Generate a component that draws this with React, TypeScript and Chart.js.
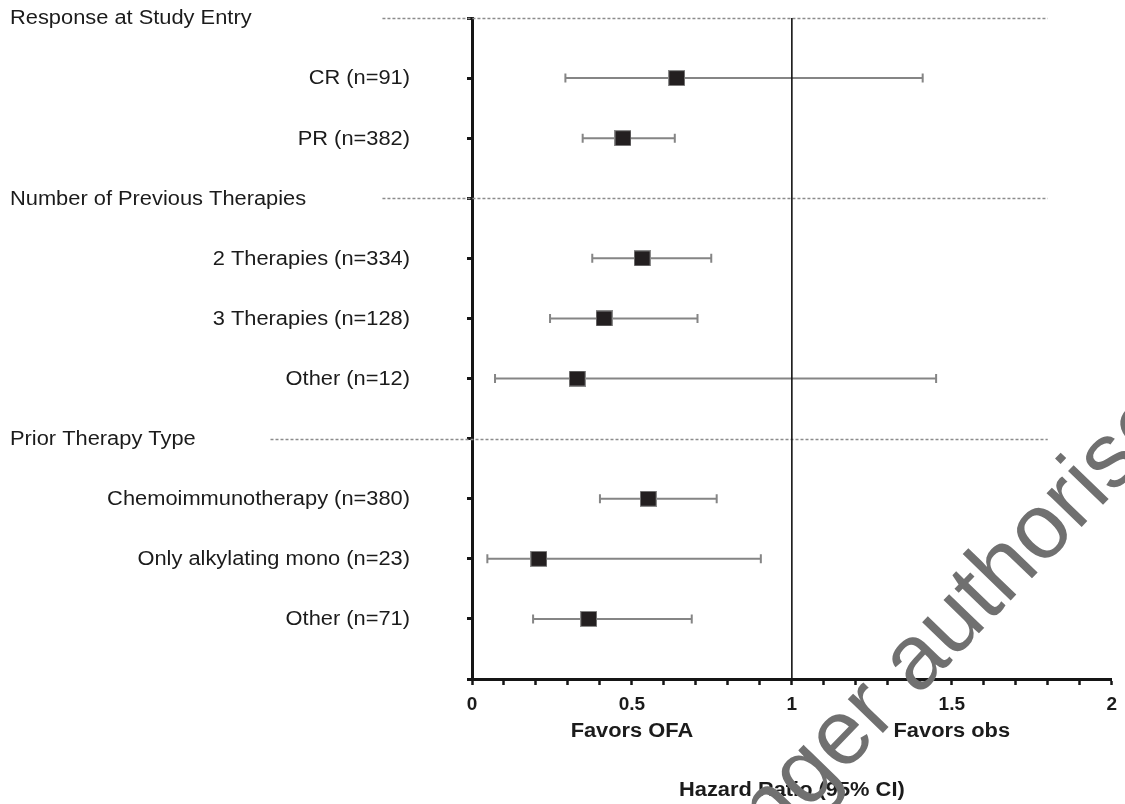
import React, { useEffect, useRef } from 'react';
import { Chart, registerables } from 'chart.js';

Chart.register(...registerables);

// Rows from top to bottom; group headers have no estimate.
const rowLabels = [
  'Response at Study Entry',
  'CR (n=91)',
  'PR (n=382)',
  'Number of Previous Therapies',
  '2 Therapies (n=334)',
  '3 Therapies (n=128)',
  'Other (n=12)',
  'Prior Therapy Type',
  'Chemoimmunotherapy (n=380)',
  'Only alkylating mono (n=23)',
  'Other (n=71)',
];
const isHeader = [true, false, false, true, false, false, false, true, false, false, false];
const hazardRatio = [null, 0.64, 0.472, null, 0.532, 0.413, 0.329, null, 0.551, 0.209, 0.365];
const ciLower = [null, 0.292, 0.346, null, 0.376, 0.244, 0.072, null, 0.4, 0.048, 0.191];
const ciUpper = [null, 1.409, 0.634, null, 0.748, 0.705, 1.451, null, 0.765, 0.903, 0.687];

// Dotted rules next to each group header, in hazard-ratio units.
const headerRuleStart = [-0.28, -0.28, -0.63];
const headerRuleEnd = 1.8;

const xTickLabels = ['0', '0.5', '1', '1.5', '2'];
const favorsLabels = ['Favors OFA', 'Favors obs'];
const favorsAt = [0.5, 1.5];
const axisTitle = 'Hazard Ratio (95% CI)';
const watermarkText = 'Medicinal product no longer authorised';

const FONT = '"Liberation Sans", Arial, Helvetica, sans-serif';
const TEXT_COLOR = '#1b1b1b';
const STRETCH = 1.12;

function drawStretched(
  ctx: CanvasRenderingContext2D,
  text: string,
  x: number,
  y: number,
  align: CanvasTextAlign,
  font: string,
) {
  ctx.save();
  ctx.translate(x, y);
  ctx.scale(STRETCH, 1);
  ctx.font = font;
  ctx.textAlign = align;
  ctx.textBaseline = 'middle';
  ctx.fillStyle = TEXT_COLOR;
  ctx.fillText(text, 0, 0);
  ctx.restore();
}

function makeSquare(): HTMLCanvasElement {
  const c = document.createElement('canvas');
  c.width = 17;
  c.height = 16;
  const g = c.getContext('2d')!;
  g.fillStyle = '#231f20';
  g.fillRect(0, 0, 17, 16);
  g.strokeStyle = 'rgba(150,150,150,0.9)';
  g.lineWidth = 1;
  g.strokeRect(0.5, 0.5, 16, 15);
  return c;
}

const forestPlugin = {
  id: 'forest',
  beforeDatasetsDraw(chart: any) {
    const { ctx, chartArea, scales } = chart;
    const xs = scales.x;
    const ys = scales.y;
    ctx.save();

    // header rules
    let h = 0;
    rowLabels.forEach((_, i) => {
      if (!isHeader[i]) return;
      const y = Math.round(ys.getPixelForValue(i)) + 0.5;
      ctx.beginPath();
      ctx.setLineDash([3, 2]);
      ctx.strokeStyle = '#8c8c8c';
      ctx.lineWidth = 1.5;
      ctx.moveTo(xs.getPixelForValue(headerRuleStart[h]), y);
      ctx.lineTo(xs.getPixelForValue(headerRuleEnd), y);
      ctx.stroke();
      h++;
    });
    ctx.setLineDash([]);

    // confidence intervals
    ctx.strokeStyle = '#858585';
    ctx.lineWidth = 2;
    rowLabels.forEach((_, i) => {
      if (ciLower[i] == null || ciUpper[i] == null) return;
      const y = ys.getPixelForValue(i);
      const x0 = xs.getPixelForValue(ciLower[i] as number);
      const x1 = xs.getPixelForValue(ciUpper[i] as number);
      ctx.beginPath();
      ctx.moveTo(x0, y);
      ctx.lineTo(x1, y);
      ctx.moveTo(x0, y - 4.5);
      ctx.lineTo(x0, y + 4.5);
      ctx.moveTo(x1, y - 4.5);
      ctx.lineTo(x1, y + 4.5);
      ctx.stroke();
    });

    // line of no effect
    const xr = xs.getPixelForValue(1);
    ctx.beginPath();
    ctx.strokeStyle = '#151515';
    ctx.lineWidth = 1.6;
    ctx.moveTo(xr, chartArea.top);
    ctx.lineTo(xr, chartArea.bottom);
    ctx.stroke();
    ctx.restore();
  },
  afterDraw(chart: any) {
    const { ctx, scales } = chart;
    const xs = scales.x;
    const ys = scales.y;
    const regular = `19.5px ${FONT}`;
    const bold = `bold 19.5px ${FONT}`;

    rowLabels.forEach((label, i) => {
      const y = ys.getPixelForValue(i) + 1;
      if (isHeader[i]) drawStretched(ctx, label, 10, y, 'left', regular);
      else drawStretched(ctx, label, 410, y, 'right', regular);
    });

    favorsLabels.forEach((label, i) => {
      drawStretched(ctx, label, xs.getPixelForValue(favorsAt[i]), 732, 'center', bold);
    });
    drawStretched(ctx, axisTitle, (xs.left + xs.right) / 2, 791, 'center', bold);

    // document watermark
    ctx.save();
    const size = 92;
    ctx.font = `${size}px ${FONT}`;
    ctx.fillStyle = 'rgb(112,112,112)';
    ctx.textAlign = 'left';
    ctx.textBaseline = 'alphabetic';
    ctx.translate(918, 662);
    ctx.rotate((-46 * Math.PI) / 180);
    const prefix = 'Medicinal product no longer ';
    const offset = ctx.measureText(prefix).width + ctx.measureText('a').width / 2;
    ctx.fillText(watermarkText, -offset, 0.26 * size);
    ctx.restore();
  },
};

export default function App() {
  const canvasRef = useRef<HTMLCanvasElement | null>(null);

  useEffect(() => {
    if (!canvasRef.current) return;
    const points = rowLabels
      .map((_, i) => (hazardRatio[i] == null ? null : { x: hazardRatio[i] as number, y: i }))
      .filter((p) => p !== null) as { x: number; y: number }[];

    const chart = new Chart(canvasRef.current, {
      type: 'scatter',
      data: {
        datasets: [
          {
            data: points,
            pointStyle: makeSquare() as any,
            pointRadius: 8,
            pointHoverRadius: 8,
          },
        ],
      },
      options: {
        animation: false,
        responsive: false,
        maintainAspectRatio: false,
        events: [],
        layout: { padding: { top: 18, right: 8, left: 0, bottom: 0 } },
        plugins: {
          legend: { display: false },
          tooltip: { enabled: false },
        },
        scales: {
          x: {
            type: 'linear',
            min: 0,
            max: 2,
            afterFit: (s: any) => {
              s.height = 125;
            },
            ticks: {
              stepSize: 0.1,
              autoSkip: false,
              maxRotation: 0,
              padding: 8,
              color: TEXT_COLOR,
              font: { family: FONT, size: 19, weight: 'bold' },
              callback: (v: any) => {
                const t = Math.round(Number(v) * 10);
                return t % 5 === 0 ? xTickLabels[t / 5] : '';
              },
            },
            grid: {
              drawOnChartArea: false,
              drawTicks: true,
              tickLength: 6,
              tickWidth: 2.5,
              tickColor: '#151515',
            },
            border: { display: true, color: '#151515', width: 3 },
          },
          y: {
            type: 'linear',
            min: 0,
            max: 11,
            reverse: true,
            afterFit: (s: any) => {
              s.width = 472;
            },
            ticks: { display: false, stepSize: 1, autoSkip: false },
            grid: {
              drawOnChartArea: false,
              drawTicks: true,
              tickLength: 5,
              tickWidth: 3,
              tickColor: '#151515',
            },
            border: { display: true, color: '#151515', width: 3 },
          },
        },
      },
      plugins: [forestPlugin],
    });
    return () => chart.destroy();
  }, []);

  return (
    <div style={{ position: 'absolute', left: 0, top: 0, width: 1125, height: 804, background: '#fff' }}>
      <canvas ref={canvasRef} width={1125} height={804} style={{ display: 'block' }} />
    </div>
  );
}
